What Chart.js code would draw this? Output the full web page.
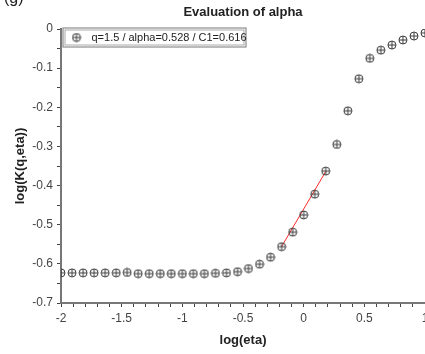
<!DOCTYPE html>
<html>
<head>
<meta charset="utf-8">
<script src="https://cdn.jsdelivr.net/npm/chart.js@4"></script>
<style>
  html, body { margin: 0; padding: 0; background: #fff; overflow: hidden; }
  #wrap { width: 440px; height: 354px; }
</style>
</head>
<body>
<div id="wrap"><canvas id="alphaChart"></canvas></div>
<script>
// values
const logEta = [-2.000, -1.909, -1.818, -1.727, -1.636, -1.545, -1.455, -1.364, -1.273, -1.182,
  -1.091, -1.000, -0.909, -0.818, -0.727, -0.636, -0.545, -0.455, -0.364, -0.273,
  -0.182, -0.091, 0.000, 0.091, 0.182, 0.273, 0.364, 0.455, 0.545, 0.636,
  0.727, 0.818, 0.909, 1.000];
const logK = [-0.623, -0.623, -0.623, -0.623, -0.623, -0.623, -0.622, -0.625, -0.625, -0.625,
  -0.625, -0.625, -0.625, -0.625, -0.624, -0.623, -0.620, -0.612, -0.601, -0.583,
  -0.556, -0.519, -0.475, -0.422, -0.363, -0.295, -0.209, -0.127, -0.075, -0.054,
  -0.041, -0.028, -0.018, -0.010];
const fitX = [-0.182, 0.182];
const fitY = [-0.556, -0.364];
const seriesLabel = "q=1.5 / alpha=0.528 / C1=0.616";
const chartTitle = "Evaluation of alpha";
const panelTag = "(g)";

// circle-plus marker
function makeMarker() {
  var c = document.createElement("canvas");
  c.width = 10;
  c.height = 10;
  var g = c.getContext("2d");
  g.strokeStyle = "#3a3a3a";
  g.lineWidth = 1;
  g.beginPath();
  g.arc(5, 5, 4, 0, Math.PI * 2);
  g.stroke();
  g.beginPath();
  g.moveTo(5, 1);
  g.lineTo(5, 9);
  g.moveTo(1, 5);
  g.lineTo(9, 5);
  g.stroke();
  return c;
}
const marker = makeMarker();

const extras = {
  id: "extras",
  afterDraw(chart) {
    var ctx = chart.ctx;
    var a = chart.chartArea;
    ctx.save();
    // panel tag, mostly cut off at the top
    ctx.fillStyle = "#222";
    ctx.font = "16px 'Liberation Sans', Arial, sans-serif";
    ctx.textBaseline = "alphabetic";
    ctx.textAlign = "left";
    ctx.fillText(panelTag, 4, 3);
    // title
    ctx.font = "bold 13px 'Liberation Sans', Arial, sans-serif";
    ctx.textAlign = "center";
    ctx.textBaseline = "middle";
    ctx.fillText(chartTitle, (a.left + a.right) / 2, 12);
    // legend box
    var bx = a.left + 1.5, by = a.top - 1.5, bw = 184, bh = 20;
    ctx.fillStyle = "#fff";
    ctx.fillRect(bx, by, bw, bh);
    ctx.strokeStyle = "#777";
    ctx.lineWidth = 1;
    ctx.strokeRect(bx + 0.5, by + 0.5, bw - 1, bh - 1);
    ctx.strokeStyle = "#aaa";
    ctx.strokeRect(bx + 2.5, by + 2.5, bw - 5, bh - 5);
    ctx.drawImage(marker, bx + 9, by + bh / 2 - 5);
    ctx.fillStyle = "#222";
    ctx.font = "11px 'Liberation Sans', Arial, sans-serif";
    ctx.textAlign = "left";
    ctx.fillText(seriesLabel, bx + 29, by + bh / 2 + 0.5);
    ctx.restore();
  },
};

const ctx = document.getElementById("alphaChart").getContext("2d");
new Chart(ctx, {
  type: "scatter",
  data: {
    datasets: [
      {
        label: seriesLabel,
        data: logEta.map(function (x, i) { return { x: x, y: logK[i] }; }),
        pointStyle: marker,
        pointRadius: 5,
        showLine: false,
      },
      {
        label: "fit",
        data: fitX.map(function (x, i) { return { x: x, y: fitY[i] }; }),
        showLine: true,
        pointRadius: 0,
        borderColor: "#ff2a2a",
        borderWidth: 1,
      },
    ],
  },
  options: {
    responsive: true,
    maintainAspectRatio: false,
    animation: false,
    layout: { padding: { top: 29, left: 0, right: 15, bottom: 0 } },
    plugins: {
      legend: { display: false },
      title: { display: false },
      tooltip: { enabled: false },
    },
    scales: {
      x: {
        type: "linear",
        min: -2,
        max: 1,
        afterFit: function (s) { s.height = 51; },
        border: { display: true, color: "#777", width: 2 },
        grid: { drawOnChartArea: false, drawTicks: true, tickLength: 4, color: "#444" },
        ticks: {
          stepSize: 0.1,
          autoSkip: false,
          maxRotation: 0,
          padding: 4,
          color: "#444",
          font: { size: 12, family: "'Liberation Sans', Arial, sans-serif" },
          callback: function (v) {
            var r = Math.round(v * 10);
            if (r % 5 !== 0) return "";
            return String(r / 10);
          },
        },
        title: {
          display: true,
          text: "log(eta)",
          color: "#222",
          padding: { top: 0, bottom: 6 },
          font: { size: 13, weight: "bold", family: "'Liberation Sans', Arial, sans-serif" },
        },
      },
      y: {
        type: "linear",
        min: -0.7,
        max: 0,
        afterFit: function (s) { s.width = 61; },
        border: { display: true, color: "#777", width: 2 },
        grid: { drawOnChartArea: false, drawTicks: true, tickLength: 4, color: "#444" },
        ticks: {
          stepSize: 0.05,
          autoSkip: false,
          padding: 4,
          color: "#444",
          font: { size: 12, family: "'Liberation Sans', Arial, sans-serif" },
          callback: function (v) {
            var r = Math.round(v * 100);
            if (r % 10 !== 0) return "";
            return r === 0 ? "0" : (r / 100).toFixed(1);
          },
        },
        title: {
          display: true,
          text: "log(K(q,eta))",
          color: "#222",
          padding: { top: 13, bottom: 0 },
          font: { size: 13, weight: "bold", family: "'Liberation Sans', Arial, sans-serif" },
        },
      },
    },
  },
  plugins: [extras],
});
</script>
</body>
</html>
